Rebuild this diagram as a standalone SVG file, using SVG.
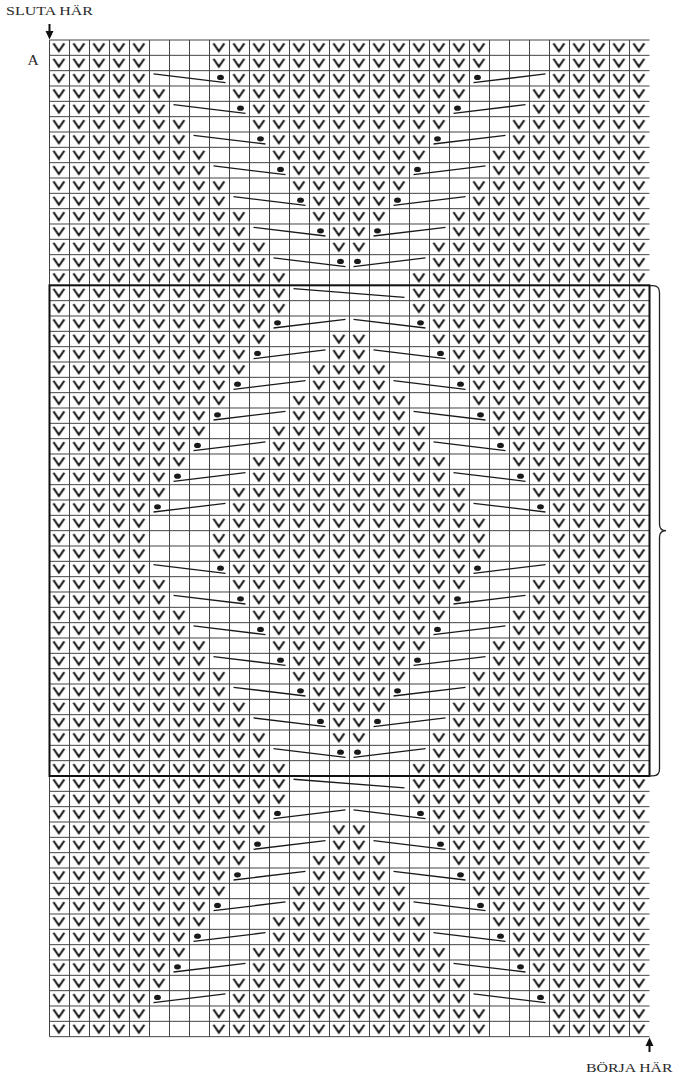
<svg xmlns="http://www.w3.org/2000/svg" xmlns:xlink="http://www.w3.org/1999/xlink" width="676" height="1075" viewBox="0 0 676 1075">
<style>
.t{font-family:"Liberation Serif","Times New Roman",serif;fill:#2a2a2a}
.grid{fill:none;stroke:#444;stroke-width:1}
.cl{fill:none;stroke:#1a1a1a;stroke-width:1.3}
.dot{fill:#1a1a1a}
.cv rect{fill:#fff}
</style>
<defs>
<pattern id="vp" patternUnits="userSpaceOnUse" x="49.5" y="40" width="20" height="46">
<path d="M4 3.4L9.4 11.3L14.8 3.4M4 18.733L9.4 26.633L14.8 18.733M4 34.067L9.4 41.967L14.8 34.067" fill="none" stroke="#161616" stroke-width="2"/>
</pattern>
<g id="cd"><path class="cl" d="M4 3.3L76 12" fill="none" stroke="#1a1a1a" stroke-width="1.3"/><ellipse class="dot" cx="71" cy="6.8" rx="3.4" ry="2.6" fill="#1a1a1a"/></g>
<g id="ca"><path class="cl" d="M4 12L76 3.3" fill="none" stroke="#1a1a1a" stroke-width="1.3"/><ellipse class="dot" cx="8" cy="6.8" rx="3.4" ry="2.6" fill="#1a1a1a"/></g>
</defs>
<rect width="676" height="1075" fill="#fff"/>
<g id="stitches">
<rect x="49.5" y="40" width="600" height="996.667" fill="url(#vp)"/>
</g>
<g id="covers" class="cv">
<g id="band-covers">
<rect x="149.5" y="40" width="60" height="15.34"/><rect x="489.5" y="40" width="60" height="15.34"/>
<rect x="149.5" y="55.333" width="60" height="15.34"/><rect x="489.5" y="55.333" width="60" height="15.34"/>
<rect x="149.5" y="70.667" width="80" height="15.34"/><rect x="469.5" y="70.667" width="80" height="15.34"/>
<rect x="169.5" y="86" width="60" height="15.34"/><rect x="469.5" y="86" width="60" height="15.34"/>
<rect x="169.5" y="101.333" width="80" height="15.34"/><rect x="449.5" y="101.333" width="80" height="15.34"/>
<rect x="189.5" y="116.667" width="60" height="15.34"/><rect x="449.5" y="116.667" width="60" height="15.34"/>
<rect x="189.5" y="132" width="80" height="15.34"/><rect x="429.5" y="132" width="80" height="15.34"/>
<rect x="209.5" y="147.333" width="60" height="15.34"/><rect x="429.5" y="147.333" width="60" height="15.34"/>
<rect x="209.5" y="162.667" width="80" height="15.34"/><rect x="409.5" y="162.667" width="80" height="15.34"/>
<rect x="229.5" y="178" width="60" height="15.34"/><rect x="409.5" y="178" width="60" height="15.34"/>
<rect x="229.5" y="193.333" width="80" height="15.34"/><rect x="389.5" y="193.333" width="80" height="15.34"/>
<rect x="249.5" y="208.667" width="60" height="15.34"/><rect x="389.5" y="208.667" width="60" height="15.34"/>
<rect x="249.5" y="224" width="80" height="15.34"/><rect x="369.5" y="224" width="80" height="15.34"/>
<rect x="269.5" y="239.333" width="60" height="15.34"/><rect x="369.5" y="239.333" width="60" height="15.34"/>
<rect x="269.5" y="254.667" width="160" height="15.34"/>
<rect x="289.5" y="270" width="120" height="15.34"/>
<rect x="289.5" y="285.333" width="120" height="15.34"/>
<rect x="289.5" y="300.667" width="120" height="15.34"/>
<rect x="269.5" y="316" width="160" height="15.34"/>
<rect x="269.5" y="331.333" width="60" height="15.34"/><rect x="369.5" y="331.333" width="60" height="15.34"/>
<rect x="249.5" y="346.667" width="80" height="15.34"/><rect x="369.5" y="346.667" width="80" height="15.34"/>
<rect x="249.5" y="362" width="60" height="15.34"/><rect x="389.5" y="362" width="60" height="15.34"/>
<rect x="229.5" y="377.333" width="80" height="15.34"/><rect x="389.5" y="377.333" width="80" height="15.34"/>
<rect x="229.5" y="392.667" width="60" height="15.34"/><rect x="409.5" y="392.667" width="60" height="15.34"/>
<rect x="209.5" y="408" width="80" height="15.34"/><rect x="409.5" y="408" width="80" height="15.34"/>
<rect x="209.5" y="423.333" width="60" height="15.34"/><rect x="429.5" y="423.333" width="60" height="15.34"/>
<rect x="189.5" y="438.667" width="80" height="15.34"/><rect x="429.5" y="438.667" width="80" height="15.34"/>
<rect x="189.5" y="454" width="60" height="15.34"/><rect x="449.5" y="454" width="60" height="15.34"/>
<rect x="169.5" y="469.333" width="80" height="15.34"/><rect x="449.5" y="469.333" width="80" height="15.34"/>
<rect x="169.5" y="484.667" width="60" height="15.34"/><rect x="469.5" y="484.667" width="60" height="15.34"/>
<rect x="149.5" y="500" width="80" height="15.34"/><rect x="469.5" y="500" width="80" height="15.34"/>
<rect x="149.5" y="515.333" width="60" height="15.34"/><rect x="489.5" y="515.333" width="60" height="15.34"/>
</g>
<use href="#band-covers" xlink:href="#band-covers" y="490.667"/>
<rect x="149.5" y="1021.333" width="60" height="15.34"/><rect x="489.5" y="1021.333" width="60" height="15.34"/>
</g>
<g id="gridlines">
<path class="grid" d="M49.5 40v996.667m20-996.667v996.667m20-996.667v996.667m20-996.667v996.667m20-996.667v996.667m20-996.667v996.667m20-996.667v996.667m20-996.667v996.667m20-996.667v996.667m20-996.667v996.667m20-996.667v996.667m20-996.667v996.667m20-996.667v996.667m20-996.667v996.667m20-996.667v996.667m20-996.667v996.667m20-996.667v996.667m20-996.667v996.667m20-996.667v996.667m20-996.667v996.667m20-996.667v996.667m20-996.667v996.667m20-996.667v996.667m20-996.667v996.667m20-996.667v996.667m20-996.667v996.667m20-996.667v996.667m20-996.667v996.667m20-996.667v996.667m20-996.667v996.667"/>
<path class="grid" d="M49.5 40h600
m-600 15.3333h600m-600 15.3333h600m-600 15.3333h600m-600 15.3333h600m-600 15.3333h600
m-600 15.3333h600m-600 15.3333h600m-600 15.3333h600m-600 15.3333h600m-600 15.3333h600
m-600 15.3333h600m-600 15.3333h600m-600 15.3333h600m-600 15.3333h600m-600 15.3333h600
m-600 15.3333h600m-600 15.3333h600m-600 15.3333h600m-600 15.3333h600m-600 15.3333h600
m-600 15.3333h600m-600 15.3333h600m-600 15.3333h600m-600 15.3333h600m-600 15.3333h600
m-600 15.3333h600m-600 15.3333h600m-600 15.3333h600m-600 15.3333h600m-600 15.3333h600
m-600 15.3333h600m-600 15.3333h600m-600 15.3333h600m-600 15.3333h600m-600 15.3333h600
m-600 15.3333h600m-600 15.3333h600m-600 15.3333h600m-600 15.3333h600m-600 15.3333h600
m-600 15.3333h600m-600 15.3333h600m-600 15.3333h600m-600 15.3333h600m-600 15.3333h600
m-600 15.3333h600m-600 15.3333h600m-600 15.3333h600m-600 15.3333h600m-600 15.3333h600
m-600 15.3333h600m-600 15.3333h600m-600 15.3333h600m-600 15.3333h600m-600 15.3333h600
m-600 15.3333h600m-600 15.3333h600m-600 15.3333h600m-600 15.3333h600m-600 15.3333h600
m-600 15.3333h600m-600 15.3333h600m-600 15.3333h600m-600 15.3333h600m-600 15.3333h600"/>
</g>
<g id="cables">
<g id="band-cables">
<use href="#cd" xlink:href="#cd" x="149.5" y="70.667"/><use href="#ca" xlink:href="#ca" x="469.5" y="70.667"/>
<use href="#cd" xlink:href="#cd" x="169.5" y="101.333"/><use href="#ca" xlink:href="#ca" x="449.5" y="101.333"/>
<use href="#cd" xlink:href="#cd" x="189.5" y="132"/><use href="#ca" xlink:href="#ca" x="429.5" y="132"/>
<use href="#cd" xlink:href="#cd" x="209.5" y="162.667"/><use href="#ca" xlink:href="#ca" x="409.5" y="162.667"/>
<use href="#cd" xlink:href="#cd" x="229.5" y="193.333"/><use href="#ca" xlink:href="#ca" x="389.5" y="193.333"/>
<use href="#cd" xlink:href="#cd" x="249.5" y="224"/><use href="#ca" xlink:href="#ca" x="369.5" y="224"/>
<use href="#cd" xlink:href="#cd" x="269.5" y="254.667"/><use href="#ca" xlink:href="#ca" x="349.5" y="254.667"/>
<path class="cl" d="M293.5 288.6L404.5 297.3"/>
<use href="#ca" xlink:href="#ca" x="269.5" y="316"/><use href="#cd" xlink:href="#cd" x="349.5" y="316"/>
<use href="#ca" xlink:href="#ca" x="249.5" y="346.667"/><use href="#cd" xlink:href="#cd" x="369.5" y="346.667"/>
<use href="#ca" xlink:href="#ca" x="229.5" y="377.333"/><use href="#cd" xlink:href="#cd" x="389.5" y="377.333"/>
<use href="#ca" xlink:href="#ca" x="209.5" y="408"/><use href="#cd" xlink:href="#cd" x="409.5" y="408"/>
<use href="#ca" xlink:href="#ca" x="189.5" y="438.667"/><use href="#cd" xlink:href="#cd" x="429.5" y="438.667"/>
<use href="#ca" xlink:href="#ca" x="169.5" y="469.333"/><use href="#cd" xlink:href="#cd" x="449.5" y="469.333"/>
<use href="#ca" xlink:href="#ca" x="149.5" y="500"/><use href="#cd" xlink:href="#cd" x="469.5" y="500"/>
</g>
<use href="#band-cables" xlink:href="#band-cables" y="490.667"/>
</g>
<g id="repeat-box">
<rect x="49.5" y="285.333" width="600" height="490.667" fill="none" stroke="#111" stroke-width="2"/>
<path d="M649.5 285.6H653Q659.5 285.6 659.5 292.5V524Q659.5 530.7 666 530.7Q659.5 530.7 659.5 537.5V769Q659.5 775.8 653 775.8H649.5" fill="none" stroke="#222" stroke-width="1.3"/>
</g>
<g id="end-marker">
<line x1="49.5" y1="24" x2="49.5" y2="33" stroke="#111" stroke-width="2"/>
<polygon points="45.5,31 53.5,31 49.5,39.5" fill="#111"/>
<text class="t" x="6" y="15" font-size="13.5" textLength="87" lengthAdjust="spacingAndGlyphs">SLUTA HÄR</text>
</g>
<g id="label-a">
<text class="t" x="27.5" y="64.5" font-size="15.5">A</text>
</g>
<g id="start-marker">
<line x1="649.5" y1="1045" x2="649.5" y2="1052" stroke="#111" stroke-width="2"/>
<polygon points="645.5,1046 653.5,1046 649.5,1037.5" fill="#111"/>
<text class="t" x="586" y="1071.5" font-size="13.5" textLength="86.5" lengthAdjust="spacingAndGlyphs">BÖRJA HÄR</text>
</g>
</svg>
